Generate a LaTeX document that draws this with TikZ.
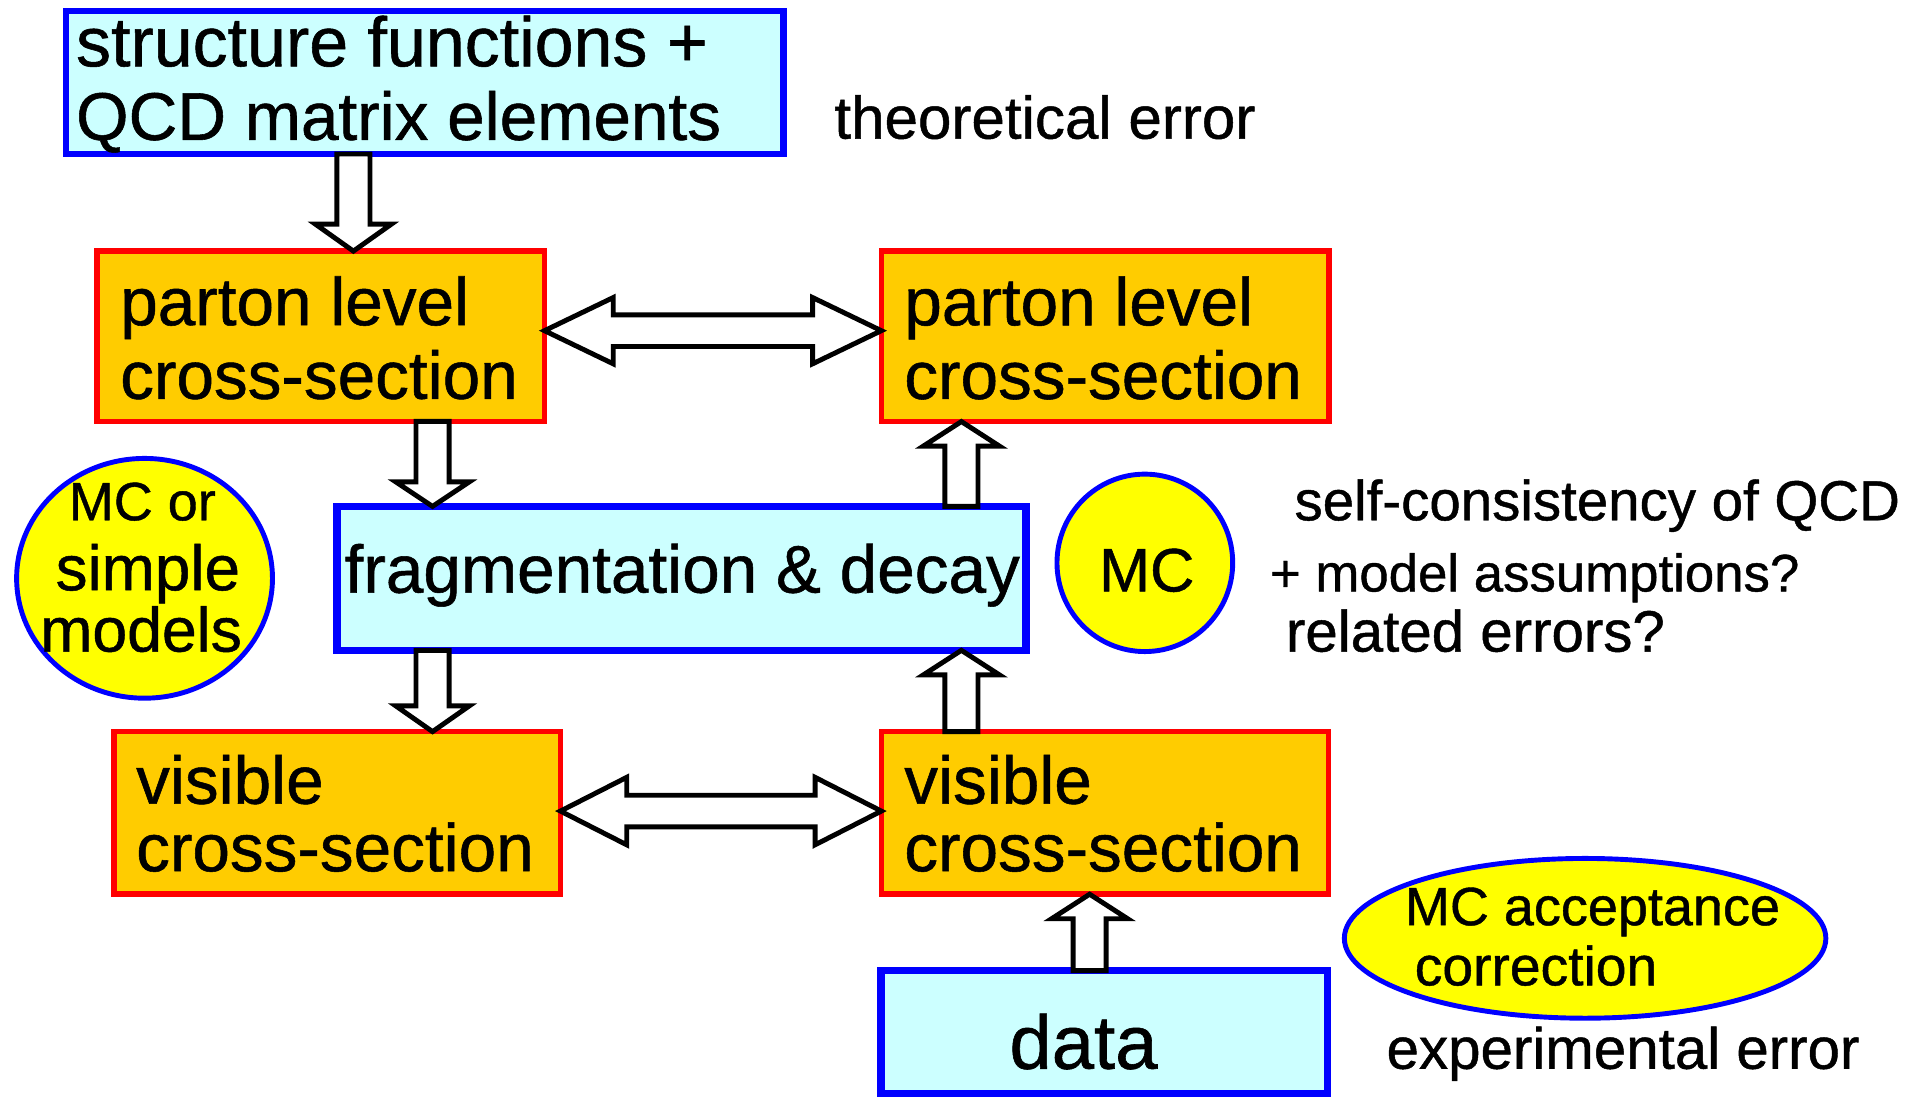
\documentclass[tikz,border=0pt]{standalone}
\usepackage{fontspec}
\setmainfont{Liberation Sans}[FakeBold=0.8]
\usetikzlibrary{calc,shapes.geometric}

\definecolor{boxcyan}{HTML}{CCFFFF}
\definecolor{boxorange}{HTML}{FFCC00}
\definecolor{ellyellow}{HTML}{FFFF00}
\definecolor{lineblue}{HTML}{0000FF}
\definecolor{linered}{HTML}{FF0000}

% one line of text, left edge at #1 from the node centre, baseline raised by #2
\newcommand\txl[4]{\makebox[0pt][l]{\hspace*{#1}\raisebox{#2}{\fontsize{#3}{#3}\selectfont #4}}}
% one line of text, centred at #1 from the node centre, baseline raised by #2
\newcommand\txc[4]{\makebox[0pt][c]{\hspace*{#1}\hspace*{#1}\raisebox{#2}{\fontsize{#3}{#3}\selectfont #4}}}

% hollow block arrow from #1 to #2: shaft half width #3, head half width #4, head length #5
\newcommand\singlearrow[5]{%
  \coordinate (sa-h) at ($(#2)!#5!(#1)$);
  \draw[blockarrow] ($(#1)!#3!90:(#2)$) -- ($(sa-h)!#3!90:(#2)$) -- ($(sa-h)!#4!90:(#2)$)
    -- (#2) -- ($(sa-h)!#4!-90:(#2)$) -- ($(sa-h)!#3!-90:(#2)$) -- ($(#1)!#3!-90:(#2)$) -- cycle;
}
% hollow double-headed block arrow between #1 and #2
\newcommand\doublearrow[5]{%
  \coordinate (da-a) at ($(#1)!#5!(#2)$);
  \coordinate (da-b) at ($(#2)!#5!(#1)$);
  \draw[blockarrow] (#1) -- ($(da-a)!#4!90:(#2)$) -- ($(da-a)!#3!90:(#2)$) -- ($(da-b)!#3!90:(#2)$)
    -- ($(da-b)!#4!90:(#2)$) -- (#2) -- ($(da-b)!#4!-90:(#2)$) -- ($(da-b)!#3!-90:(#2)$)
    -- ($(da-a)!#3!-90:(#2)$) -- ($(da-a)!#4!-90:(#2)$) -- cycle;
}

\tikzset{
  every node/.style={inner sep=0pt, outer sep=0pt},
  cyanbox/.style={rectangle, draw=lineblue, fill=boxcyan},
  orangebox/.style={rectangle, draw=linered, fill=boxorange, line width=4.5pt},
  yellowell/.style={ellipse, draw=lineblue, fill=ellyellow, line width=4pt},
  blockarrow/.style={draw=black, fill=white, line width=4pt, line join=miter},
  note/.style={anchor=base west}
}

\begin{document}
\begin{tikzpicture}[x=1pt, y=-1pt]
\fill[white] (0,0) rectangle (1568,896);
\useasboundingbox (0,0) rectangle (1568,896);

% boxes
\node[cyanbox, line width=5pt, minimum width=585pt, minimum height=116.5pt] (top) at (346,67.25)
  {\smash{\txl{-284pt}{13.25pt}{57}{structure functions +}\txl{-284pt}{-46.75pt}{55}{QCD matrix elements}}};
\node[orangebox, minimum width=364.5pt, minimum height=138.7pt] (pl) at (261.5,274)
  {\smash{\txl{-163.5pt}{9pt}{55}{parton level}\txl{-163.5pt}{-51pt}{55}{cross-section}}};
\node[orangebox, minimum width=365pt, minimum height=138.9pt] (pr) at (900.75,274.1)
  {\smash{\txl{-163.75pt}{9pt}{55}{parton level}\txl{-163.75pt}{-51pt}{55}{cross-section}}};
\node[cyanbox, line width=6pt, minimum width=561.4pt, minimum height=117.3pt] (frag) at (555.3,471.35)
  {\smash{\txc{0.7pt}{-11.65pt}{55}{fragmentation \& decay}}};
\node[orangebox, minimum width=364pt, minimum height=132.5pt] (vl) at (274.75,662.5)
  {\smash{\txl{-163.75pt}{7.5pt}{55}{visible}\txl{-163.75pt}{-47.5pt}{55}{cross-section}}};
\node[orangebox, minimum width=364.5pt, minimum height=132.5pt] (vr) at (900.5,662.5)
  {\smash{\txl{-163.5pt}{7.5pt}{55}{visible}\txl{-163.5pt}{-47.5pt}{55}{cross-section}}};
\node[cyanbox, line width=6pt, minimum width=364pt, minimum height=100pt] (data) at (900,841)
  {\smash{\txc{-17pt}{-30pt}{62}{data}}};

% ellipses
\node[yellowell, minimum width=208.5pt, minimum height=195.4pt] (simple) at (117.8,471.3)
  {\smash{\txc{-1.8pt}{47.3pt}{44}{MC or}\txc{2.7pt}{-9.7pt}{52}{simple}\txc{-2.8pt}{-59.7pt}{51}{models}}};
\node[yellowell, minimum width=143.2pt, minimum height=144.6pt] (mc) at (933,458.7)
  {\smash{\txc{1.5pt}{-23.3pt}{50}{MC}}};
\node[yellowell, minimum width=392.4pt, minimum height=130.2pt] (acc) at (1291.8,764.7)
  {\smash{\txl{-146.8pt}{10.7pt}{44}{MC acceptance}\txl{-138.8pt}{-38.3pt}{45}{correction}}};

% free labels
\node[note, font=\fontsize{49}{49}\selectfont] (theo) at (680,113) {theoretical error};
\node[note, font=\fontsize{46}{46}\selectfont] (selfc) at (1055,424) {self-consistency of QCD};
\node[note, font=\fontsize{43}{43}\selectfont] (model) at (1035,482) {+ model assumptions?};
\node[note, font=\fontsize{47.5}{47.5}\selectfont] (related) at (1048,531) {related errors?};
\node[note, font=\fontsize{47.5}{47.5}\selectfont] (expt) at (1130,871) {experimental error};

% columns and rows of the connectors
\coordinate (xa) at (288,0);
\coordinate (xb) at (352.5,0);
\coordinate (xc) at (783.5,0);
\coordinate (xd) at (888,0);
\coordinate (ya) at (0,269.5);
\coordinate (yb) at (0,661);

\coordinate (a1s) at (top.south -| xa);  \coordinate (a1e) at (pl.north -| xa);
\coordinate (a2s) at (pl.south -| xb);   \coordinate (a2e) at (frag.north -| xb);
\coordinate (a3s) at (frag.south -| xb); \coordinate (a3e) at (vl.north -| xb);
\coordinate (a4s) at (vr.north -| xc);   \coordinate (a4e) at (frag.south -| xc);
\coordinate (a5s) at (frag.north -| xc); \coordinate (a5e) at (pr.south -| xc);
\coordinate (a6s) at (data.north -| xd); \coordinate (a6e) at (vr.south -| xd);
\coordinate (d1s) at (pl.east |- ya);    \coordinate (d1e) at (pr.west |- ya);
\coordinate (d2s) at (vl.east |- yb);    \coordinate (d2e) at (vr.west |- yb);

% connectors
\singlearrow{a1s}{a1e}{13.5pt}{31pt}{22pt}
\singlearrow{a2s}{a2e}{13.5pt}{30pt}{20pt}
\singlearrow{a3s}{a3e}{13.5pt}{30pt}{21pt}
\singlearrow{a4s}{a4e}{13.5pt}{31pt}{20pt}
\singlearrow{a5s}{a5e}{13.5pt}{31pt}{20pt}
\singlearrow{a6s}{a6e}{13.5pt}{31pt}{20pt}
\doublearrow{d1s}{d1e}{12.9pt}{27pt}{56pt}
\doublearrow{d2s}{d2e}{12.9pt}{27.5pt}{54pt}
\end{tikzpicture}
\end{document}
